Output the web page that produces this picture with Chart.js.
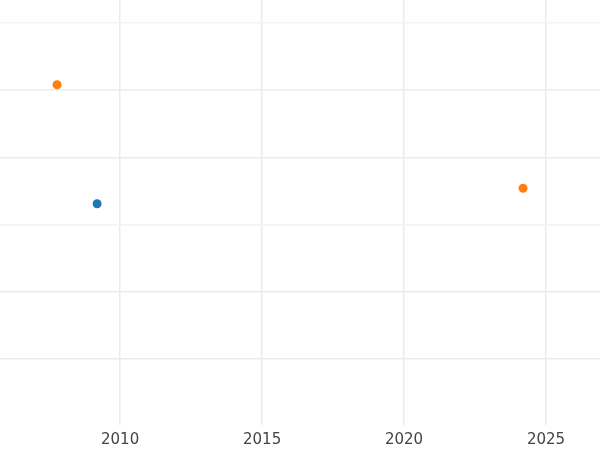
<!DOCTYPE html>
<html><head><meta charset="utf-8">
<script src="https://cdn.jsdelivr.net/npm/chart.js@4/dist/chart.umd.min.js"></script>
<style>body{margin:0;background:#fff}#wrap{width:600px;height:450px}</style>
</head><body><div id="wrap"><canvas id="c"></canvas></div>
<script>
const seriesA = [{x: 2009.19, y: 2.31}];
const seriesB = [{x: 2007.78, y: 4.08}, {x: 2024.19, y: 2.54}];
const xTicks = [2010, 2015, 2020, 2025];

new Chart(document.getElementById("c"), {
  type: "scatter",
  data: {
    datasets: [
      {data: seriesA, backgroundColor: "#1f77b4", borderWidth: 0, pointRadius: 4.5},
      {data: seriesB, backgroundColor: "#ff7f0e", borderWidth: 0, pointRadius: 4.5}
    ]
  },
  options: {
    responsive: true, maintainAspectRatio: false, animation: false,
    layout: {padding: 0, autoPadding: false},
    plugins: {legend: {display: false}, tooltip: {enabled: false}},
    scales: {
      x: {
        min: 2005.77, max: 2026.9,
        afterBuildTicks: s => { s.ticks = xTicks.map(v => ({value: v})); },
        afterFit: s => { s.height = 25; },
        border: {display: false},
        grid: {color: "#ebebeb", lineWidth: 1.5, drawTicks: false},
        ticks: {color: "#444", font: {family: "DejaVu Sans", size: 15}, padding: 6, maxRotation: 0,
          callback: v => String(v)}
      },
      y: {
        min: -0.98, max: 5.34,
        afterBuildTicks: s => { s.ticks = [0,1,2,3,4,5].map(v => ({value: v})); },
        afterFit: s => { s.width = 0; },
        border: {display: false},
        grid: {color: (c) => c.tick && (c.tick.value === 2 || c.tick.value === 5) ? "#f3f3f3" : "#ebebeb", lineWidth: 1.5, drawTicks: false},
        ticks: {display: false}
      }
    }
  }
});
</script></body></html>
